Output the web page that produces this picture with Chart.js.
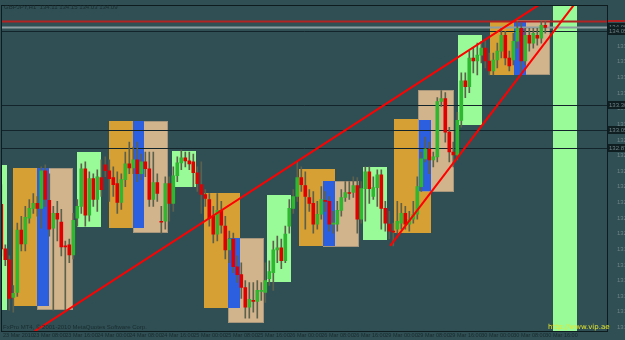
<!DOCTYPE html>
<html>
<head>
<meta charset="utf-8">
<script src="https://cdn.jsdelivr.net/npm/chart.js@4.4.1/dist/chart.umd.min.js"></script>
<style>
  html, body { margin: 0; padding: 0; background: #2f4f55; }
</style>
</head>
<body>
<canvas id="chart" width="625" height="340"></canvas>
<script>
// GBPJPY H1 candles, one entry per bar (bar index = position on the x axis)
const opens = [
  132.30, 131.85, 131.74, 131.36, 131.41, 132.04, 131.90, 132.16, 132.26, 132.31,
  132.26, 132.64, 132.34, 132.06, 132.21, 132.12, 131.88, 131.89, 131.79, 132.16,
  132.28, 132.66, 132.19, 132.56, 132.35, 132.57, 132.70, 132.64, 132.57, 132.51,
  132.32, 132.55, 132.71, 132.67, 132.75, 132.61, 132.73, 132.66, 132.35, 132.52,
  132.13, 132.13, 132.51, 132.31, 132.59, 132.72, 132.77, 132.74, 132.73, 132.62,
  132.50, 132.40, 132.35, 132.18, 132.00, 132.24, 132.08, 131.84, 131.95, 131.67,
  131.59, 131.46, 131.26, 131.33, 131.32, 131.42, 131.41, 131.55, 131.61, 131.84,
  131.86, 131.73, 132.08, 132.26, 132.38, 132.57, 132.49, 132.37, 132.31, 132.10,
  132.20, 132.34, 132.33, 132.10, 132.10, 132.24, 132.37, 132.42, 132.42, 132.49,
  132.15, 132.46, 132.63, 132.38, 132.47, 132.60, 132.26, 132.10, 132.03, 132.05,
  132.11, 132.21, 132.10, 132.15, 132.20, 132.48, 132.76, 132.86, 132.75, 132.78,
  133.34, 133.37, 133.03, 132.83, 132.80, 133.15, 133.55, 133.49, 133.78, 133.75,
  133.81, 133.88, 133.75, 133.65, 133.76, 133.85, 134.01, 133.78, 133.76, 133.95,
  134.08, 133.75, 134.01, 133.93, 134.01, 133.98, 134.11
];
const highs = [
  132.50, 131.89, 131.78, 131.48, 132.11, 132.18, 132.28, 132.35, 132.41, 132.38,
  132.68, 132.70, 132.61, 132.28, 132.33, 132.25, 131.93, 131.95, 132.21, 132.35,
  132.71, 132.73, 132.63, 132.61, 132.65, 132.75, 132.78, 132.75, 132.68, 132.63,
  132.61, 132.83, 132.93, 132.88, 132.93, 132.81, 132.83, 132.83, 132.83, 132.61,
  132.28, 132.58, 132.58, 132.68, 132.78, 132.85, 132.83, 132.83, 132.81, 132.68,
  132.73, 132.45, 132.41, 132.28, 132.41, 132.33, 132.18, 132.03, 132.01, 131.78,
  131.71, 131.53, 131.51, 131.51, 131.53, 131.51, 131.71, 131.73, 131.93, 131.98,
  131.95, 132.08, 132.35, 132.45, 132.73, 132.68, 132.63, 132.45, 132.43, 132.33,
  132.48, 132.43, 132.38, 132.23, 132.33, 132.45, 132.53, 132.53, 132.58, 132.57,
  132.53, 132.68, 132.68, 132.58, 132.65, 132.65, 132.33, 132.23, 132.11, 132.33,
  132.31, 132.28, 132.23, 132.33, 132.58, 132.83, 132.98, 132.93, 132.83, 133.38,
  133.45, 133.43, 133.08, 132.93, 133.23, 133.63, 133.63, 133.85, 133.88, 133.93,
  133.95, 133.95, 133.83, 133.83, 133.93, 134.08, 134.05, 133.85, 134.03, 134.15,
  134.13, 134.08, 134.08, 134.08, 134.08, 134.15, 134.15
];
const lows = [
  131.78, 131.68, 131.23, 131.21, 131.37, 131.83, 131.83, 132.11, 132.21, 132.18,
  132.06, 132.28, 131.98, 131.23, 131.93, 131.78, 131.23, 131.71, 131.75, 132.08,
  132.21, 132.08, 132.13, 132.28, 132.23, 132.38, 132.58, 132.33, 132.38, 132.21,
  132.25, 132.48, 132.61, 132.61, 132.53, 132.55, 132.58, 132.28, 132.28, 132.33,
  132.01, 132.05, 132.13, 132.23, 132.53, 132.65, 132.68, 132.65, 132.48, 132.43,
  132.21, 132.28, 132.08, 131.91, 131.93, 132.01, 131.75, 131.71, 131.61, 131.51,
  131.35, 131.15, 131.15, 131.21, 131.15, 131.33, 131.31, 131.48, 131.43, 131.71,
  131.65, 131.71, 132.01, 132.21, 132.33, 132.43, 132.05, 132.23, 132.01, 132.05,
  132.15, 132.23, 132.03, 132.01, 132.03, 132.18, 132.33, 132.35, 132.37, 132.01,
  132.11, 132.13, 132.31, 132.35, 132.28, 132.05, 132.03, 131.95, 131.88, 132.01,
  132.05, 132.05, 132.03, 132.11, 132.15, 132.43, 132.73, 132.61, 132.68, 132.73,
  133.29, 132.93, 132.73, 132.68, 132.75, 133.08, 133.38, 133.43, 133.63, 133.61,
  133.73, 133.68, 133.61, 133.61, 133.68, 133.78, 133.71, 133.65, 133.71, 133.88,
  133.63, 133.71, 133.85, 133.88, 133.91, 133.93, 134.03
];
const closes = [
  131.85, 131.74, 131.35, 131.40, 132.04, 131.90, 132.17, 132.26, 132.31, 132.26,
  132.64, 132.35, 132.05, 132.21, 132.15, 131.87, 131.87, 131.79, 132.14, 132.28,
  132.66, 132.19, 132.56, 132.35, 132.58, 132.45, 132.64, 132.56, 132.50, 132.32,
  132.55, 132.71, 132.67, 132.75, 132.61, 132.73, 132.66, 132.35, 132.52, 132.41,
  132.12, 132.51, 132.31, 132.59, 132.72, 132.77, 132.74, 132.71, 132.62, 132.51,
  132.40, 132.36, 132.16, 132.00, 132.24, 132.09, 131.84, 131.95, 131.67, 131.59,
  131.46, 131.26, 131.34, 131.32, 131.43, 131.43, 131.53, 131.62, 131.84, 131.86,
  131.73, 132.00, 132.26, 132.38, 132.57, 132.50, 132.38, 132.31, 132.10, 132.20,
  132.35, 132.33, 132.10, 132.11, 132.24, 132.37, 132.42, 132.41, 132.49, 132.15,
  132.46, 132.63, 132.46, 132.47, 132.60, 132.26, 132.11, 132.03, 132.02, 132.13,
  132.21, 132.10, 132.15, 132.20, 132.48, 132.76, 132.86, 132.75, 132.78, 133.34,
  133.37, 133.03, 132.83, 132.80, 133.15, 133.55, 133.49, 133.78, 133.75, 133.81,
  133.88, 133.75, 133.65, 133.76, 133.85, 134.01, 133.78, 133.70, 133.95, 134.08,
  133.75, 134.01, 133.93, 134.03, 133.98, 134.11, 134.09
];

// time labels, one every 8 bars
const dateTickBars = [0, 8, 16, 24, 32, 40, 48, 56, 64, 72, 80, 88, 96, 104, 112, 120, 128, 136];
const dateLabels = [
  '23 Mar 2010', '23 Mar 08:00', '23 Mar 16:00', '24 Mar 00:00', '24 Mar 08:00', '24 Mar 16:00',
  '25 Mar 00:00', '25 Mar 08:00', '25 Mar 16:00', '26 Mar 00:00', '26 Mar 08:00', '26 Mar 16:00',
  '29 Mar 00:00', '29 Mar 08:00', '29 Mar 16:00', '30 Mar 00:00', '30 Mar 08:00', '30 Mar 16:00'
];
const priceTicks = [
  133.900, 133.742, 133.584, 133.426, 133.268, 133.110, 132.952, 132.794, 132.636, 132.478,
  132.320, 132.162, 132.004, 131.846, 131.688, 131.530, 131.372, 131.214, 131.056
];

// session rectangles: [fromBar, toBar, highPrice, lowPrice]
const greenBoxes = [
  [-5, 1.4, 132.70, 131.23], [18.9, 24.9, 132.83, 132.07], [42.7, 48.7, 132.84, 132.48],
  [66.4, 72.4, 132.39, 131.52], [90.4, 96.4, 132.68, 131.94], [114.2, 120.2, 134.01, 133.10],
  [137.9, 143.9, 134.60, 130.80]
];
const goldBoxes = [
  [2.9, 11.9, 132.67, 131.27], [26.9, 35.9, 133.14, 132.06], [50.7, 59.7, 132.42, 131.25],
  [74.4, 83.4, 132.66, 131.88], [98.2, 107.4, 133.16, 132.01], [122.2, 131.2, 134.14, 133.61]
];
const tanBoxes = [
  [8.9, 17.9, 132.67, 131.23], [32.9, 41.7, 133.14, 132.01], [56.7, 65.7, 131.96, 131.10],
  [80.4, 89.4, 132.54, 131.87], [104.2, 113.2, 133.46, 132.43], [128.2, 137.2, 134.16, 133.61]
];
const blueBoxes = [
  [8.9, 11.9, 132.67, 131.27], [32.9, 35.7, 133.14, 132.06], [56.7, 59.7, 131.96, 131.25],
  [80.4, 83.4, 132.54, 131.88], [104.4, 107.4, 133.15, 132.44], [128.2, 131.2, 134.14, 133.61]
];

// horizontal levels and trend lines
const levelPrices = [134.15, 134.09, 134.05, 133.30, 133.05, 132.87];
const trendLine1 = [{ x: 8.4, y: 131.02 }, { x: 134.9, y: 134.33 }];
const trendLine2 = [{ x: 97.2, y: 131.88 }, { x: 143.4, y: 134.33 }];

const symbol = 'GBPJPY,H1';

const levelColors = ['#b22222', '#8d9ca0', '#13252a', '#13252a', '#13252a', '#13252a'];
const BG = '#2f4f55';
const TEXT = '#6f8386';
const DARK_TEXT = '#1a2c2e';

const wicks = opens.map((o, i) => ({ x: i, y: [lows[i], highs[i]] }));
const bodies = opens.map((o, i) => ({ x: i, y: [o, closes[i]] }));
const bodyColors = opens.map((o, i) => (closes[i] >= o ? '#2fb82f' : '#e00000'));

const mt4Plugin = {
  id: 'mt4',
  beforeDraw(chart) {
    const { ctx, width, height } = chart;
    ctx.save();
    ctx.fillStyle = BG;
    ctx.fillRect(0, 0, width, height);
    ctx.restore();
  },
  beforeDatasetsDraw(chart) {
    const { ctx, chartArea: a, scales: { x, y } } = chart;
    ctx.save();
    ctx.beginPath();
    ctx.rect(a.left, a.top, a.right - a.left, a.bottom - a.top);
    ctx.clip();

    const fillBoxes = (list, color, edge) => {
      list.forEach(([x0, x1, hi, lo]) => {
        const px0 = Math.round(x.getPixelForValue(x0));
        const px1 = Math.round(x.getPixelForValue(x1));
        const py0 = Math.round(y.getPixelForValue(hi));
        const py1 = Math.round(y.getPixelForValue(lo));
        ctx.fillStyle = color;
        ctx.fillRect(px0, py0, px1 - px0, py1 - py0);
        if (edge) {
          ctx.strokeStyle = edge;
          ctx.lineWidth = 1;
          ctx.strokeRect(px0 + 0.5, py0 + 0.5, px1 - px0 - 1, py1 - py0 - 1);
        }
      });
    };
    fillBoxes(greenBoxes, '#98fb98');
    fillBoxes(goldBoxes, '#d6a035');
    fillBoxes(tanBoxes, '#d2b48c', '#a8967c');
    fillBoxes(blueBoxes, '#2c5ee0');

    levelPrices.forEach((p, i) => {
      const py = Math.round(y.getPixelForValue(p)) + 0.5;
      ctx.strokeStyle = levelColors[i];
      ctx.lineWidth = i < 2 ? 2 : 1;
      ctx.beginPath();
      ctx.moveTo(a.left, py);
      ctx.lineTo(a.right, py);
      ctx.stroke();
    });
    ctx.restore();
  },
  afterDraw(chart) {
    const { ctx, chartArea: a, scales: { x, y }, width } = chart;
    ctx.save();
    // level labels on the price axis
    ctx.font = '6px "Liberation Sans"';
    ctx.textBaseline = 'middle';
    levelPrices.forEach((p, i) => {
      const py = Math.round(y.getPixelForValue(p));
      if (i === 0) {
        ctx.fillStyle = levelColors[0];
        ctx.fillRect(a.right, py - 1, width - a.right, 2);
        return;
      }
      ctx.fillStyle = '#0f1e21';
      ctx.fillRect(a.right + 1, py - 4, width - a.right, 8);
      ctx.fillStyle = TEXT;
      ctx.fillText(p.toFixed(3), a.right + 2, py);
    });

    // time labels under the plot
    ctx.font = '5.5px "Liberation Sans"';
    ctx.fillStyle = DARK_TEXT;
    ctx.textBaseline = 'top';
    dateTickBars.forEach((b, i) => {
      ctx.fillText(dateLabels[i], Math.max(a.left + 1, x.getPixelForValue(b)), a.bottom + 2);
    });

    // frame
    ctx.strokeStyle = '#0e1c1f';
    ctx.lineWidth = 1;
    ctx.strokeRect(Math.round(a.left) - 0.5, Math.round(a.top) - 0.5,
      Math.round(a.right - a.left) + 1, Math.round(a.bottom - a.top) + 1);

    // texts
    const n = opens.length - 1;
    ctx.textBaseline = 'middle';
    ctx.font = '6px "Liberation Sans"';
    ctx.fillStyle = DARK_TEXT;
    ctx.fillText(`${symbol}  ${opens[n].toFixed(2)} ${highs[n].toFixed(2)} ${lows[n].toFixed(2)} ${closes[n].toFixed(2)}`, 4, 7);
    ctx.fillText('FxPro MT4, \u00a9 2001-2010 MetaQuotes Software Corp.', 3, 327);
    ctx.font = '7px "DejaVu Sans"';
    ctx.fillStyle = '#e6e62e';
    ctx.fillText('http://www.vip.ae', 548, 327);
    ctx.restore();
  }
};

new Chart(document.getElementById('chart').getContext('2d'), {
  type: 'bar',
  data: {
    datasets: [
      {
        type: 'line', data: trendLine1, borderColor: '#ff0000', borderWidth: 2,
        pointRadius: 0, order: 0
      },
      {
        type: 'line', data: trendLine2, borderColor: '#ff0000', borderWidth: 2,
        pointRadius: 0, order: 0
      },
      {
        label: 'bodies', data: bodies, backgroundColor: bodyColors,
        barThickness: 3, grouped: false, order: 1
      },
      {
        label: 'wicks', data: wicks, backgroundColor: '#5e604c',
        barThickness: 1, grouped: false, order: 2
      }
    ]
  },
  options: {
    responsive: false,
    animation: false,
    layout: { padding: { left: 2, top: 2, right: 0, bottom: 0 } },
    plugins: { legend: { display: false }, tooltip: { enabled: false } },
    scales: {
      x: {
        type: 'linear', min: 0.175, max: 151.425, offset: false,
        grid: { display: false }, border: { display: false },
        afterFit: (s) => { s.height = 9; },
        ticks: { display: false }
      },
      y: {
        position: 'right', min: 131.02, max: 134.31,
        grid: { display: false }, border: { display: false },
        afterBuildTicks: (s) => { s.ticks = priceTicks.map((v) => ({ value: v })); },
        afterFit: (s) => { s.width = 18; },
        ticks: {
          autoSkip: false, padding: 2,
          color: TEXT, font: { size: 6, family: 'Liberation Sans' },
          callback: (v) => v.toFixed(3)
        }
      }
    }
  },
  plugins: [mt4Plugin]
});
</script>
</body>
</html>
